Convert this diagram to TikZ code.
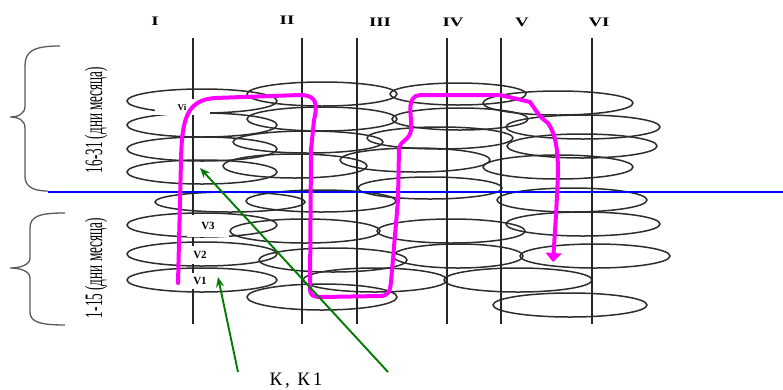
\documentclass[tikz,border=0pt]{standalone}
\usepackage{fontspec}
\setmainfont{Liberation Serif}
\usetikzlibrary{arrows.meta}
\definecolor{ellgray}{RGB}{45,45,45}
\definecolor{pathmag}{RGB}{255,0,255}
\definecolor{arrgreen}{RGB}{0,125,0}
\tikzset{
  ell/.style={draw=ellgray, line width=1.5pt},
  col/.style={draw=black!85, line width=1.9pt},
  roman/.style={font=\fontsize{13}{13}\selectfont\bfseries, xscale=1.45, inner sep=0pt},
  vlab/.style={fill=white, font=\fontsize{11}{11}\selectfont\bfseries, inner sep=0pt},
  route/.style={draw=pathmag, line width=4pt, line join=round, line cap=round},
  pointer/.style={draw=arrgreen, line width=1.9pt, -{Stealth[length=10pt,width=8pt]}},
  bracecurve/.style={draw=black!65, line width=1.3pt},
  sidetext/.style={font=\fontsize{25}{25}\selectfont, rotate=90, inner sep=0pt},
}
\begin{document}
\begin{tikzpicture}[x=1pt,y=-1pt]
\useasboundingbox (0,0) rectangle (783,389);

% ellipses (one per record)
\foreach \cx/\cy/\rx/\ry in {
  202/101/75/12, 202/125/75/12, 202/149/75/12, 202/172/75/12,
  230/202/75/10, 202/225/75/12, 202/254/75/12, 202/280/75/12,
  322/94/75/12, 322/119/75/12, 308/142/75/11, 295/166/72/12,
  321/201/75/11, 305/231/75/12, 333/260/74/12, 375/280/72/12, 322/297/75/13,
  458/94/68/11, 558/103/75/12, 460/119/68/11, 583/127/77/12, 582/146/75/12,
  440/138/73/11, 415/160/75/12, 558/167/75/12, 430/188/72/11,
  572/200/75/12, 451/231/74/12, 583/224/77/12, 458/256/65/12,
  595/256/75/12, 518/280/74/12, 570/305/77/12}
  \draw[ell] (\cx,\cy) ellipse [x radius=\rx pt, y radius=\ry pt];

% column lines
\foreach \x in {193,302,357,447,501,592}
  \draw[col] (\x,38) -- (\x,324);

% column headings
\node[roman] (h1) at (155,21) {I};
\node[roman] (h2) at (287,20) {II};
\node[roman] (h3) at (380,22) {III};
\node[roman] (h4) at (453,22) {IV};
\node[roman] (h5) at (522,22) {V};
\node[roman] (h6) at (599,22) {VI};

% half-month divider
\draw[blue, line width=1.6pt] (48,192) -- (783,192);

% braces
\draw[bracecurve] (60,46) .. controls (32,46) and (25,52) .. (25,66) -- (25,106)
  .. controls (25,114) and (18,117) .. (10,117) .. controls (18,117) and (25,120) .. (25,128)
  -- (25,176) .. controls (25,186) and (32,191) .. (48,191);
\draw[bracecurve] (65,213) .. controls (40,213) and (30,216) .. (30,228) -- (30,258)
  .. controls (30,265) and (20,268) .. (10,268) .. controls (20,268) and (30,271) .. (30,278)
  -- (30,312) .. controls (30,322) and (40,325) .. (65,325);

\node[sidetext] (s1) at (96,120) {\resizebox{106pt}{\height}{16-31 (дни месяца)}};
\node[sidetext] (s2) at (96,268) {\resizebox{100pt}{\height}{1-15 (дни месяца)}};

% record labels
\node[vlab, minimum width=55pt, minimum height=16pt, font=\fontsize{9}{9}\selectfont\bfseries] (vi) at (182,107) {Vi};
\node[vlab, minimum width=42pt, minimum height=22pt] (v3) at (208,226) {V3};
\node[vlab, minimum width=28pt, minimum height=18pt] (v2) at (200,255) {V2};
\node[vlab, minimum width=28pt, minimum height=16pt] (v1) at (200,281) {V1};

% traversal route
\draw[route, -{Triangle[length=9pt,width=16pt]}]
  (178,283) -- (181,160) .. controls (182,120) and (186,100) .. (215,98)
  -- (300,95) .. controls (316,95) and (318,103) .. (314,120) -- (311,150) -- (310,288)
  .. controls (310,296) and (313,297) .. (322,297) -- (380,296)
  .. controls (388,296) and (390,292) .. (391,282) -- (398,200) -- (399,148)
  .. controls (400,141) and (410,140) .. (411,130) .. controls (412,120) and (409,110) .. (411,103)
  .. controls (413,96) and (416,95) .. (424,95) -- (500,95) -- (530,102)
  .. controls (536,110) and (538,116) .. (548,123) .. controls (556,135) and (558,150) .. (558,175)
  -- (556,215) -- (553,262);

% pointers
\coordinate (k1) at (388,372);
\coordinate (k1tip) at (200,168);
\coordinate (k2) at (238,372);
\coordinate (k2tip) at (218,277);
\draw[pointer] (k1) -- (k1tip);
\draw[pointer] (k2) -- (k2tip);
\node[font=\fontsize{19}{19}\selectfont\addfontfeature{LetterSpace=15}, inner sep=0pt] (kk) at (296,381) {К, К1};
\end{tikzpicture}
\end{document}
